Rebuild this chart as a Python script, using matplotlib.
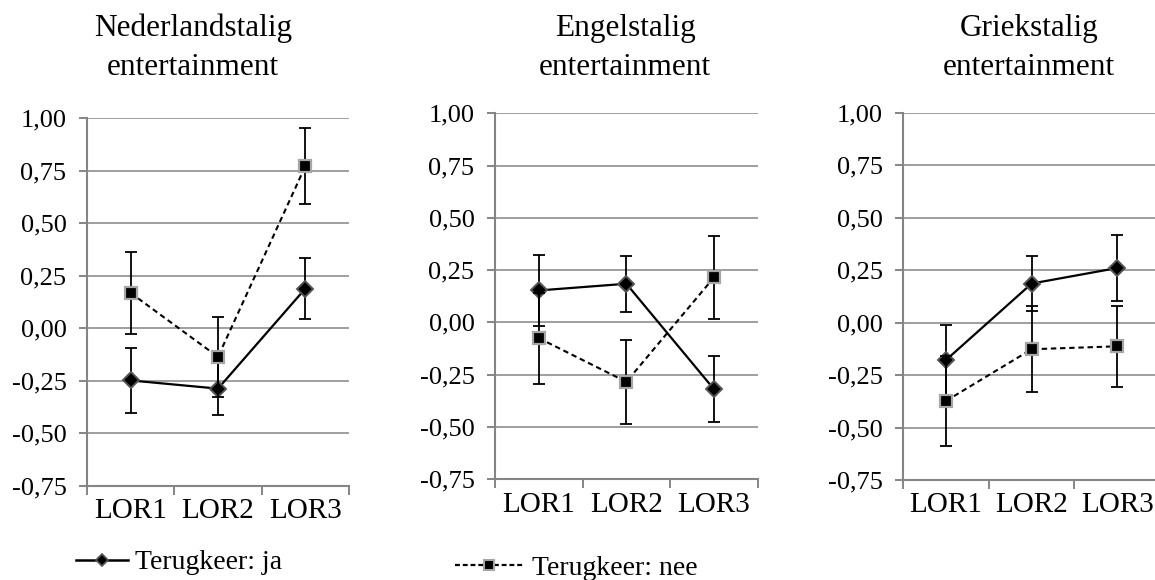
#!/usr/bin/env python3
import numpy as np
import matplotlib
matplotlib.use('Agg')
import matplotlib.pyplot as plt
from matplotlib.lines import Line2D

plt.rcParams['font.family'] = ['Liberation Serif', 'DejaVu Serif']

# data
categories = ['LOR1', 'LOR2', 'LOR3']
titles = [('Nederlandstalig', 'entertainment'),
          ('Engelstalig', 'entertainment'),
          ('Griekstalig', 'entertainment')]
ja_vals = [[-0.248, -0.287, 0.189],
           [0.153, 0.185, -0.319],
           [-0.178, 0.186, 0.260]]
ja_err = [[0.155, 0.124, 0.145],
          [0.170, 0.135, 0.157],
          [0.165, 0.133, 0.157]]
nee_vals = [[0.168, -0.136, 0.771],
            [-0.075, -0.284, 0.215],
            [-0.373, -0.127, -0.113]]
nee_err = [[0.196, 0.190, 0.180],
           [0.217, 0.202, 0.197],
           [0.213, 0.205, 0.194]]
yticks = [-0.75, -0.50, -0.25, 0.00, 0.25, 0.50, 0.75, 1.00]
ytick_labels = ['-0,75', '-0,50', '-0,25', '0,00', '0,25', '0,50', '0,75', '1,00']
legend_labels = ['Terugkeer: ja', 'Terugkeer: nee']

W, H = 1155, 580
fig = plt.figure(figsize=(W/100, H/100), dpi=100)

# axes boxes in pixels: left, top, right, bottom
boxes = [(87, 118, 349, 486), (495, 113.3, 757.7, 479.3), (903.3, 112.7, 1160, 480)]
title_x = [193, 625, 1029]

grey = '#858585'
x = np.arange(1, len(categories) + 1)

for i in range(3):
    l, t, r, b = boxes[i]
    ax = fig.add_axes([l/W, (H-b)/H, (r-l)/W, (b-t)/H])

    ax.errorbar(x, ja_vals[i], yerr=ja_err[i], fmt='none', ecolor='black',
                elinewidth=1.3, capsize=4.4, capthick=1.3, zorder=3)
    ax.plot(x, ja_vals[i], color='black', lw=1.6, marker='D', ms=8.3,
            mfc='black', mec='#555555', mew=1.4, zorder=4)
    ax.errorbar(x, nee_vals[i], yerr=nee_err[i], fmt='none', ecolor='black',
                elinewidth=1.3, capsize=4.4, capthick=1.3, zorder=5)
    ax.plot(x, nee_vals[i], color='black', lw=1.5, ls=(0, (2.6, 1.8)),
            marker='s', ms=9, mfc='black', mec='#a6a6a6', mew=1.6, zorder=6)

    ax.set_xlim(0.5, 3.5)
    ax.set_ylim(-0.75, 1.00)
    ax.set_yticks(yticks)
    ax.set_yticklabels(ytick_labels)
    ax.set_xticks(x)
    ax.set_xticklabels(categories)
    ax.set_xticks([0.5, 1.5, 2.5, 3.5], minor=True)
    ax.tick_params(axis='x', which='major', length=0, pad=9, labelsize=21)
    ax.tick_params(axis='x', which='minor', length=6.5, width=1.4,
                   color=grey, direction='out')
    ax.tick_params(axis='y', length=5.8, width=1.4, color=grey,
                   direction='out', pad=9, labelsize=19)
    ax.yaxis.grid(True, color=grey, lw=1.1)
    ax.set_axisbelow(True)
    for s in ['top', 'right']:
        ax.spines[s].set_visible(False)
    for s in ['left', 'bottom']:
        ax.spines[s].set_color(grey)
        ax.spines[s].set_linewidth(1.5)

    fig.text(title_x[i]/W, (H-36)/H, titles[i][0], ha='center', va='baseline', fontsize=22.5)
    fig.text(title_x[i]/W, (H-75)/H, titles[i][1], ha='center', va='baseline', fontsize=22.5)

# legend, two separate entries like the reference
h_ja = Line2D([], [], color='black', lw=1.8, marker='D', ms=6.5,
              mfc='black', mec='#555555', mew=1.2)
h_nee = Line2D([], [], color='black', lw=1.6, ls=(0, (2.2, 1.3)), marker='s',
               ms=7.5, mfc='black', mec='#a6a6a6', mew=1.5)
fig.legend([h_ja], [legend_labels[0]], loc='center left',
           bbox_to_anchor=(76/W, (H-562.7)/H), frameon=False, fontsize=20,
           borderpad=0, borderaxespad=0, handlelength=1.87, handletextpad=0.25)
fig.legend([h_nee], [legend_labels[1]], loc='center left',
           bbox_to_anchor=(455/W, (H-568)/H), frameon=False, fontsize=20,
           borderpad=0, borderaxespad=0, handlelength=2.45, handletextpad=0.32)

plt.savefig('out.png', dpi=100)
